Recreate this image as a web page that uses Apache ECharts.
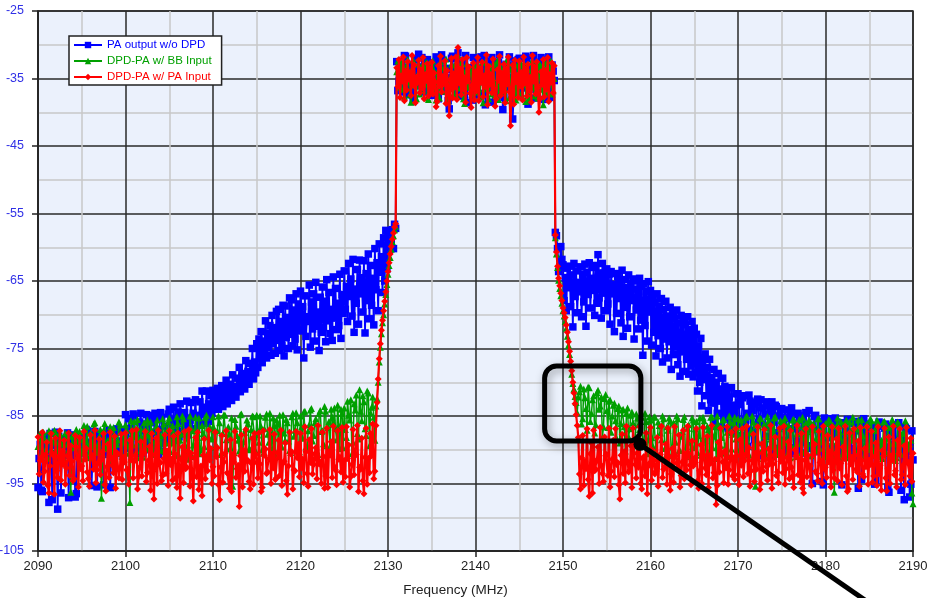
<!DOCTYPE html>
<html><head><meta charset="utf-8">
<script src="https://cdn.jsdelivr.net/npm/echarts@6/dist/echarts.min.js"></script>
<style>html,body{margin:0;padding:0;background:#fff}#c{width:931px;height:598px}</style>
</head><body><div id="c"></div>
<script>
// Two interleaved sweeps per trace: sweep A at 2090 + 0.25*i MHz, sweep B at 2090.125 + 0.25*i MHz
const freqStart = 2090, freqStep = 0.25, sweepOffset = 0.125;
const seriesNames = ['PA output w/o DPD', 'DPD-PA w/ BB Input', 'DPD-PA w/ PA Input'];

// PA output without DPD (dB)
const paNoDpdA = [
-95.6,-89.2,-96.2,-88.1,-90.5,-97.8,-89.3,-90.9,-87.4,-98.8,-89.1,-88.6,-90.8,-88.4,-97.1,-87.8,-90.2,-97.0,-88.7,-90.5,
-88.2,-90.1,-87.0,-89.3,-88.9,-90.4,-87.3,-95.5,-89.5,-88.0,-95.2,-90.7,-87.6,-95.6,-89.2,-90.9,-86.9,-89.8,-88.7,-90.8,
-84.8,-89.4,-86.9,-90.1,-85.0,-90.2,-88.3,-84.6,-90.5,-86.2,-89.6,-84.9,-90.6,-87.4,-85.3,-90.7,-84.5,-89.0,-86.5,-88.9,
-84.0,-85.6,-83.7,-86.0,-84.4,-83.2,-85.1,-84.5,-82.8,-85.3,-83.0,-84.6,-82.6,-84.9,-82.9,-81.3,-83.7,-81.3,-83.2,-82.0,
-81.2,-82.0,-80.9,-81.8,-80.5,-81.5,-79.7,-81.0,-80.3,-78.9,-80.6,-79.4,-77.8,-79.6,-78.7,-76.8,-78.4,-77.2,-75.0,-77.0,
-74.3,-73.6,-72.5,-73.9,-70.9,-72.7,-71.6,-70.1,-71.9,-69.5,-69.2,-71.0,-68.6,-68.7,-70.4,-67.5,-67.8,-69.3,-66.9,-68.4,
-66.5,-68.8,-67.2,-70.3,-65.6,-68.1,-66.9,-65.2,-69.6,-67.4,-65.9,-68.0,-64.8,-66.7,-69.2,-64.4,-66.1,-68.3,-64.0,-67.0,
-63.5,-65.8,-62.4,-64.7,-61.8,-66.2,-63.3,-61.9,-64.5,-62.0,-63.9,-61.0,-62.7,-64.6,-60.2,-62.3,-59.5,-61.4,-58.6,-57.5,
-57.9,-59.3,-57.4,-56.6,-32.5,-35.4,-33.6,-37.0,-31.7,-34.8,-36.3,-32.9,-38.1,-34.0,-31.4,-35.9,-33.3,-36.7,-32.2,-37.5,
-33.1,-36.0,-31.8,-38.0,-34.5,-32.3,-36.5,-33.7,-39.5,-32.0,-35.2,-37.3,-31.2,-34.2,-36.8,-32.6,-38.6,-33.4,-35.7,-31.9,
-35.8,-32.2,-37.4,-33.6,-31.6,-36.2,-34.8,-32.5,-38.5,-33.0,-36.9,-31.5,-34.4,-37.8,-32.9,-35.6,-33.2,-41.0,-32.4,-36.6,
-32.0,-36.4,-34.1,-31.7,-38.8,-33.4,-35.7,-32.6,-37.1,-33.8,-31.9,-36.0,-34.5,-32.3,-37.8,-33.0,-35.3,-58.3,-63.6,-59.9,
-62.6,-64.5,-63.1,-62.8,-64.1,-62.4,-63.5,-65.2,-62.9,-64.0,-62.5,-63.7,-62.3,-64.6,-63.0,-62.7,-61.1,-63.8,-62.4,-64.2,
-63.2,-64.0,-63.6,-65.5,-63.9,-64.3,-65.0,-63.4,-64.8,-66.0,-64.1,-65.4,-64.7,-66.2,-65.0,-64.6,-65.8,-65.4,-66.5,-65.1,
-66.4,-67.3,-68.2,-66.9,-68.7,-67.6,-69.2,-68.0,-70.2,-68.9,-69.8,-70.6,-69.3,-71.2,-70.1,-70.9,-71.5,-70.3,-72.2,-71.0,
-72.0,-72.9,-74.6,-73.5,-76.5,-75.8,-77.8,-76.6,-79.3,-78.1,-80.0,-78.7,-81.0,-79.4,-80.6,-81.4,-82.2,-80.8,-83.4,-81.7,
-81.7,-86.2,-82.3,-88.0,-84.6,-81.9,-87.1,-83.2,-90.4,-82.5,-85.5,-83.8,-89.2,-82.9,-86.7,-84.3,-91.0,-83.4,-87.5,-85.0,
-83.9,-88.6,-85.2,-89.2,-84.4,-86.9,-90.6,-84.8,-90.1,-85.6,-88.1,-84.5,-89.4,-86.4,-95.0,-85.1,-89.5,-90.3,-85.8,-95.2,
-86.0,-90.9,-85.4,-89.6,-87.7,-85.9,-90.4,-88.9,-86.3,-88.6,-85.5,-89.8,-90.0,-86.1,-90.3,-95.7,-87.2,-85.7,-89.9,-88.4,
-86.2,-89.4,-88.0,-94.5,-86.5,-90.7,-90.1,-86.8,-89.6,-96.3,-87.5,-89.2,-86.3,-90.6,-88.8,-88.9,-97.4,-86.9,-90.2,-95.1,
-91.5
];
const paNoDpdB = [
-91.3,-96.0,-89.9,-89.8,-90.0,-87.6,-97.4,-90.6,-89.3,-88.0,-96.4,-89.5,-90.8,-87.5,-90.2,-90.9,-88.8,-96.5,-90.6,-88.2,
-90.2,-89.1,-87.2,-90.9,-95.3,-88.5,-90.7,-87.8,-89.0,-90.0,-88.6,-90.1,-87.1,-90.4,-89.8,-87.4,-90.5,-90.0,-87.0,-89.6,
-89.8,-85.4,-89.2,-84.7,-88.0,-90.6,-85.9,-90.4,-87.2,-84.8,-90.0,-86.0,-89.4,-84.6,-89.9,-87.0,-85.2,-90.3,-88.4,-84.7,
-87.9,-86.4,-88.6,-86.9,-88.1,-85.8,-87.3,-86.5,-87.8,-85.6,-86.9,-85.2,-87.0,-85.9,-86.3,-84.8,-86.1,-85.0,-85.8,-84.6,
-83.8,-82.9,-84.0,-83.1,-83.6,-82.4,-83.2,-81.8,-82.7,-81.5,-82.2,-80.8,-81.4,-80.6,-81.0,-79.8,-80.3,-79.2,-79.5,-78.6,
-77.8,-76.2,-77.1,-75.6,-76.4,-74.9,-76.0,-74.3,-75.7,-73.8,-75.3,-74.6,-76.1,-73.4,-75.0,-72.9,-74.6,-73.6,-75.2,-72.2,
-72.4,-76.4,-73.2,-71.0,-74.8,-72.1,-73.9,-71.7,-75.3,-72.6,-71.9,-74.0,-70.9,-72.8,-73.8,-70.5,-72.2,-71.6,-73.5,-69.8,
-69.2,-71.0,-67.3,-70.2,-72.6,-68.3,-71.4,-66.9,-69.6,-72.7,-67.9,-70.6,-68.6,-71.5,-66.3,-69.4,-63.7,-66.7,-65.0,-63.2,
-60.5,-58.9,-60.2,-57.2,-36.8,-33.0,-35.9,-31.6,-37.4,-33.5,-35.0,-38.4,-32.2,-36.1,-33.8,-31.9,-37.0,-34.3,-36.4,-32.7,
-34.7,-37.5,-32.8,-35.6,-31.5,-36.9,-33.5,-38.3,-34.9,-31.7,-36.3,-33.9,-37.6,-32.4,-35.4,-31.6,-36.2,-34.0,-38.2,-33.2,
-33.9,-37.2,-31.8,-35.5,-38.9,-33.3,-36.5,-31.9,-34.7,-37.6,-32.6,-35.9,-39.6,-33.1,-36.4,-31.8,-34.9,-37.3,-33.6,-32.2,
-37.3,-33.2,-35.5,-32.0,-36.6,-34.3,-31.6,-37.9,-33.6,-35.8,-32.5,-38.1,-34.2,-31.8,-36.3,-33.9,-57.8,-60.2,-62.9,-61.8,
-67.9,-69.4,-66.0,-68.8,-71.8,-67.3,-69.7,-66.6,-70.3,-68.1,-71.7,-67.0,-69.0,-66.4,-70.1,-68.3,-67.5,-70.5,-66.8,-69.4,
-68.4,-71.4,-66.9,-72.5,-69.8,-67.6,-71.2,-73.2,-68.9,-72.0,-70.3,-67.9,-73.6,-69.3,-72.1,-70.8,-76.0,-71.6,-73.9,-69.6,
-74.5,-72.6,-76.1,-73.1,-75.0,-77.0,-73.6,-76.4,-74.0,-78.1,-75.9,-74.8,-77.4,-79.1,-75.5,-78.4,-76.6,-78.8,-77.6,-79.2,
-78.6,-81.3,-80.0,-83.5,-79.6,-82.0,-84.2,-82.6,-83.1,-85.9,-84.6,-82.8,-86.6,-85.3,-84.4,-86.9,-85.8,-87.4,-84.9,-86.2,
-83.3,-87.9,-82.0,-85.6,-89.5,-82.8,-84.2,-88.5,-83.0,-86.0,-82.6,-90.9,-84.7,-83.5,-88.0,-82.9,-85.9,-83.6,-89.8,-84.0,
-86.5,-84.1,-90.2,-85.4,-83.8,-89.7,-86.1,-84.6,-88.9,-85.0,-90.5,-86.9,-84.2,-89.8,-87.0,-84.9,-89.0,-86.2,-94.7,-85.3,
-88.2,-85.7,-89.9,-86.7,-85.3,-90.5,-87.9,-95.2,-86.0,-89.1,-85.6,-90.2,-87.4,-85.8,-91.2,-86.6,-94.4,-85.4,-89.6,-86.3,
-90.8,-86.4,-95.1,-87.8,-85.9,-89.8,-89.0,-86.2,-95.6,-88.1,-86.6,-90.3,-90.5,-86.0,-96.0,-88.6,-86.7,-89.5,-97.0,-87.2
];

// DPD-PA with BB input (dB)
const dpdBbInputA = [
-89.5,-87.6,-90.8,-88.3,-91.2,-87.2,-89.9,-88.7,-87.5,-90.6,-87.6,-89.1,-91.4,-88.2,-90.0,-96.3,-87.9,-89.7,-88.5,-87.3,
-90.2,-86.4,-88.9,-91.0,-87.5,-89.6,-86.0,-90.4,-88.0,-97.2,-87.1,-89.8,-88.6,-86.6,-91.3,-87.9,-89.2,-85.9,-90.5,-87.7,
-86.3,-89.4,-97.8,-87.6,-85.8,-90.2,-88.4,-86.9,-91.1,-87.8,-85.6,-89.9,-87.2,-90.7,-86.5,-88.8,-87.9,-85.4,-90.3,-87.0,
-85.3,-89.0,-87.4,-90.8,-86.1,-88.6,-85.0,-90.1,-87.3,-91.4,-86.8,-89.3,-85.2,-88.2,-90.6,-86.4,-89.5,-84.9,-88.0,-86.9,
-85.1,-89.6,-87.2,-86.0,-90.4,-84.8,-88.5,-86.6,-89.7,-95.4,-85.5,-87.9,-90.2,-84.7,-88.8,-86.9,-86.2,-90.0,-85.0,-88.1,
-84.9,-88.9,-86.6,-90.5,-85.2,-87.7,-84.6,-89.8,-86.4,-85.6,-91.0,-87.3,-84.8,-88.6,-86.0,-90.1,-85.1,-88.0,-84.5,-89.4,
-85.0,-88.3,-84.3,-90.0,-86.3,-83.9,-87.9,-85.4,-90.7,-84.2,-87.2,-83.6,-89.4,-85.8,-84.0,-88.5,-86.9,-83.4,-89.8,-84.6,
-83.8,-88.2,-84.9,-82.6,-88.9,-84.1,-87.6,-81.1,-85.7,-82.9,-87.9,-81.6,-84.5,-82.2,-88.6,-82.4,-77.0,-72.8,-70.0,-67.0,
-64.0,-61.5,-59.2,-57.4,-34.0,-35.7,-32.6,-36.6,-34.3,-32.2,-37.4,-33.5,-35.6,-38.0,-32.9,-34.8,-36.8,-33.1,-37.9,-32.7,
-36.1,-33.8,-38.2,-34.6,-32.5,-36.9,-33.3,-38.4,-35.2,-32.9,-37.2,-34.0,-31.6,-36.4,-33.6,-38.7,-32.8,-35.9,-34.3,-37.0,
-33.4,-35.9,-37.7,-32.6,-36.5,-34.1,-38.0,-33.2,-35.4,-37.5,-32.4,-34.7,-36.7,-33.9,-38.3,-32.8,-35.5,-36.9,-33.0,-34.9,
-37.1,-32.9,-35.2,-38.4,-33.7,-36.2,-32.5,-37.6,-34.8,-33.1,-36.6,-38.9,-32.7,-35.8,-33.5,-37.3,-35.0,-61.0,-64.9,-67.2,
-69.4,-71.0,-73.2,-75.9,-78.8,-81.0,-83.0,-82.2,-80.6,-85.4,-82.3,-87.1,-80.8,-84.6,-82.0,-86.3,-81.2,-83.5,-88.2,-82.4,
-84.2,-82.8,-87.4,-83.4,-85.7,-83.9,-89.0,-84.1,-86.6,-84.6,-88.1,-84.9,-86.0,-88.7,-85.3,-87.0,-85.2,-89.3,-85.8,-88.5,
-85.6,-89.4,-85.1,-90.6,-86.4,-88.5,-85.4,-90.9,-87.1,-85.7,-89.6,-86.2,-85.0,-90.1,-88.0,-85.5,-91.0,-86.8,-88.9,-85.3,
-89.7,-85.8,-87.9,-90.8,-85.2,-88.6,-86.5,-90.2,-85.1,-88.0,-91.3,-86.3,-89.4,-85.6,-90.5,-87.4,-85.0,-89.9,-86.0,-88.4,
-85.4,-89.8,-86.7,-88.6,-85.0,-90.7,-87.2,-85.9,-95.4,-88.9,-85.3,-90.0,-86.2,-91.1,-85.7,-88.4,-89.6,-85.1,-90.3,-86.9,
-90.6,-85.8,-88.7,-86.3,-91.2,-85.6,-89.5,-87.6,-85.5,-90.4,-88.1,-86.0,-90.9,-85.9,-89.0,-87.0,-90.2,-85.4,-88.8,-91.0,
-86.1,-90.1,-85.7,-88.8,-96.3,-86.5,-90.6,-85.8,-89.3,-87.3,-91.2,-85.9,-88.6,-86.8,-90.4,-85.6,-89.7,-87.9,-91.0,-86.2,
-89.4,-85.7,-90.8,-87.1,-86.0,-89.9,-91.3,-85.8,-88.3,-90.5,-86.4,-89.1,-91.6,-85.9,-88.7,-87.6,-90.7,-86.3,-89.8,-88.6,
-98.0
];
const dpdBbInputB = [
-89.5,-90.6,-87.4,-89.9,-91.3,-88.6,-90.2,-87.1,-88.9,-91.0,-88.2,-90.4,-87.5,-89.2,-91.1,-88.0,-89.6,-87.0,-90.5,-91.4,
-88.5,-90.4,-86.5,-91.2,-88.8,-86.2,-90.0,-89.1,-87.0,-90.6,-86.1,-89.4,-91.5,-88.4,-86.7,-90.3,-88.6,-86.3,-91.0,-88.9,
-87.1,-90.5,-85.7,-89.3,-88.1,-85.5,-91.2,-88.3,-86.0,-89.8,-87.5,-85.9,-90.6,-88.7,-85.6,-87.8,-90.1,-86.2,-89.0,-85.8,
-90.3,-86.4,-88.2,-85.1,-90.9,-87.7,-85.4,-89.4,-87.3,-85.0,-91.0,-87.2,-89.0,-85.3,-90.0,-87.6,-85.2,-90.5,-86.6,-88.4,
-86.8,-89.3,-85.0,-90.7,-87.6,-84.9,-89.9,-87.7,-85.3,-90.4,-86.5,-88.6,-84.8,-91.1,-87.4,-85.6,-89.8,-87.0,-85.1,-90.2,
-87.8,-85.0,-90.0,-86.9,-84.7,-88.9,-87.6,-85.3,-90.8,-86.2,-84.9,-89.6,-87.5,-85.5,-88.7,-90.4,-84.6,-87.1,-86.0,-90.3,
-86.6,-84.4,-89.6,-87.2,-84.1,-88.7,-86.0,-90.2,-84.6,-87.3,-89.1,-84.3,-86.7,-90.5,-85.2,-83.8,-88.5,-86.4,-84.0,-89.7,
-87.0,-82.8,-85.6,-90.6,-83.2,-81.9,-88.4,-84.3,-82.0,-86.9,-81.3,-89.4,-83.7,-85.2,-83.5,-80.0,-74.8,-71.2,-68.4,-65.5,
-62.7,-60.3,-58.3,-56.9,-32.4,-36.3,-34.0,-37.7,-33.0,-35.5,-38.5,-32.3,-36.0,-34.4,-37.3,-33.2,-35.8,-32.6,-38.1,-34.6,
-32.4,-36.8,-34.1,-37.9,-33.4,-35.6,-32.1,-38.3,-34.8,-36.5,-33.0,-37.6,-35.3,-32.7,-38.0,-34.2,-36.3,-33.5,-37.4,-32.9,
-37.0,-33.7,-35.1,-38.6,-32.5,-36.2,-34.4,-37.3,-32.9,-35.8,-38.1,-33.3,-36.9,-34.0,-32.2,-37.8,-33.6,-35.3,-38.2,-32.8,
-34.5,-37.7,-33.0,-35.9,-38.0,-32.6,-36.3,-34.1,-37.9,-32.9,-35.6,-33.8,-37.2,-34.7,-32.4,-36.8,-58.6,-63.0,-66.1,-68.3,
-70.2,-72.0,-74.5,-77.4,-80.2,-82.1,-84.5,-81.4,-86.2,-81.0,-83.9,-80.7,-85.8,-82.6,-87.5,-81.5,-84.0,-82.2,-86.6,-81.8,
-86.7,-82.6,-85.0,-83.1,-88.3,-83.5,-86.1,-84.0,-90.2,-83.8,-86.9,-84.4,-89.4,-84.7,-86.3,-85.0,-88.8,-84.6,-90.6,-85.1,
-88.2,-85.2,-90.3,-85.9,-87.5,-85.0,-89.8,-86.6,-85.3,-90.9,-86.0,-88.9,-85.4,-90.1,-87.3,-85.1,-89.5,-86.3,-91.0,-85.6,
-86.9,-90.4,-85.3,-88.9,-85.7,-91.2,-87.0,-85.2,-89.7,-86.6,-85.0,-90.5,-88.2,-85.5,-89.3,-91.0,-85.9,-87.7,-85.2,-90.0,
-88.1,-85.6,-90.1,-85.2,-90.8,-87.5,-85.0,-89.6,-86.4,-89.0,-85.4,-91.3,-87.9,-85.1,-90.4,-86.6,-85.3,-90.7,-88.0,-85.7,
-88.9,-85.3,-90.6,-86.7,-89.5,-85.5,-91.0,-86.4,-89.1,-85.2,-90.2,-87.3,-85.6,-90.9,-86.1,-88.4,-85.4,-89.8,-86.8,-87.9,
-90.7,-85.5,-89.7,-86.4,-90.4,-85.3,-88.1,-91.2,-86.3,-85.6,-89.9,-87.7,-85.2,-90.6,-86.9,-89.3,-85.5,-91.1,-86.4,-90.0,
-85.4,-90.3,-87.1,-85.6,-91.0,-88.6,-85.9,-90.4,-86.7,-90.8,-85.5,-88.7,-91.2,-86.2,-90.6,-87.5,-85.7,-89.9,-89.1,-96.4
];

// DPD-PA with PA input (dB)
const dpdPaInputA = [
-88.1,-91.6,-87.4,-93.2,-88.9,-96.4,-87.6,-90.8,-88.3,-94.1,-87.2,-90.2,-88.6,-92.7,-87.5,-89.4,-94.6,-87.9,-91.3,-88.2,
-92.4,-87.3,-89.8,-94.3,-87.8,-90.9,-87.1,-93.0,-88.4,-91.5,-87.6,-96.1,-89.2,-87.4,-92.3,-88.0,-90.4,-94.2,-87.7,-91.1,
-87.5,-92.9,-88.6,-87.2,-91.7,-87.0,-94.0,-88.8,-90.6,-87.3,-93.4,-89.5,-87.6,-97.3,-88.3,-87.1,-91.9,-93.8,-87.8,-90.2,
-87.2,-91.4,-88.0,-94.1,-87.5,-97.2,-89.6,-87.3,-92.6,-87.0,-90.5,-97.6,-88.2,-87.4,-93.2,-96.8,-88.4,-91.0,-87.1,-89.8,
-92.5,-87.4,-89.7,-97.4,-87.9,-91.8,-87.2,-93.6,-88.5,-90.7,-87.3,-92.8,-98.4,-87.8,-90.1,-87.0,-91.6,-95.8,-88.3,-87.6,
-91.9,-87.5,-96.2,-87.2,-89.9,-93.3,-87.0,-90.6,-87.7,-94.2,-88.6,-87.1,-92.0,-89.0,-96.6,-87.4,-90.3,-93.0,-87.3,-89.2,
-87.6,-91.4,-86.6,-93.5,-88.5,-86.9,-92.2,-89.7,-86.4,-91.8,-87.4,-95.7,-86.8,-90.3,-88.8,-86.5,-93.0,-87.2,-91.1,-86.7,
-91.6,-86.6,-89.3,-94.0,-87.0,-90.8,-86.4,-92.6,-88.3,-96.5,-86.8,-91.3,-87.6,-86.2,-93.2,-83.0,-76.5,-72.3,-69.4,-66.6,
-63.6,-61.0,-58.8,-57.0,-33.4,-32.2,-34.6,-31.8,-33.9,-32.5,-34.1,-31.6,-33.0,-34.8,-32.3,-33.7,-31.9,-34.4,-32.8,-33.5,
-32.6,-34.2,-39.2,-33.1,-31.7,-34.7,-32.4,-33.8,-40.5,-32.0,-34.3,-31.8,-30.4,-33.6,-32.2,-34.9,-31.9,-33.3,-39.3,-32.7,
-34.0,-31.9,-33.5,-32.6,-34.6,-31.5,-33.2,-34.4,-32.1,-39.1,-33.7,-31.7,-34.2,-32.9,-33.6,-31.8,-42.0,-33.0,-32.3,-34.5,
-32.4,-34.1,-31.8,-33.6,-32.9,-34.8,-31.6,-33.3,-32.5,-40.0,-34.0,-32.2,-33.8,-31.9,-34.4,-32.7,-33.1,-60.7,-64.6,-66.8,
-69.0,-70.4,-72.6,-75.4,-78.3,-81.6,-84.8,-88.2,-95.8,-87.9,-91.7,-86.9,-96.9,-89.0,-87.1,-92.9,-89.6,-86.7,-93.5,-88.1,
-90.7,-86.8,-93.2,-88.6,-86.9,-91.9,-97.3,-87.7,-90.3,-86.5,-93.3,-89.4,-86.8,-92.2,-88.3,-86.6,-95.8,-91.0,-87.5,-92.4,
-86.7,-90.1,-93.6,-88.2,-91.5,-86.5,-92.9,-89.2,-86.8,-96.0,-89.8,-86.6,-92.0,-87.8,-93.8,-87.1,-90.6,-86.5,-92.3,-88.7,
-91.3,-86.9,-95.7,-89.3,-86.7,-92.7,-88.0,-90.9,-86.4,-93.4,-98.1,-88.9,-86.8,-91.8,-90.2,-86.6,-93.0,-87.4,-91.2,-86.9,
-93.7,-88.5,-86.9,-91.6,-86.5,-89.7,-93.1,-87.7,-90.5,-86.6,-95.9,-89.1,-87.0,-92.5,-89.9,-86.4,-92.1,-88.1,-93.3,-86.8,
-90.4,-86.5,-92.8,-88.8,-87.2,-93.9,-90.0,-86.4,-91.4,-87.6,-96.4,-86.9,-90.8,-92.4,-86.6,-89.2,-93.5,-87.3,-91.7,-86.5,
-92.6,-87.9,-90.3,-86.6,-94.2,-88.4,-86.8,-92.0,-89.6,-86.5,-96.2,-87.5,-91.1,-86.9,-92.9,-88.7,-86.7,-93.6,-89.8,-86.6,
-91.5,-87.3,-93.9,-89.0,-86.6,-92.3,-90.1,-86.8,-96.1,-88.1,-90.9,-86.5,-93.1,-88.6,-86.9,-93.7,-89.4,-86.7,-91.9,-88.3,
-90.5
];
const dpdPaInputB = [
-93.6,-91.2,-94.8,-90.7,-95.3,-92.4,-90.5,-96.6,-93.1,-91.0,-94.5,-92.2,-95.1,-90.9,-93.8,-91.7,-94.3,-89.6,-95.5,-92.8,
-94.6,-91.4,-93.3,-95.4,-90.8,-92.9,-94.9,-91.9,-93.7,-90.3,-95.2,-92.5,-94.1,-91.1,-93.4,-95.7,-90.6,-92.7,-94.4,-91.8,
-93.0,-95.1,-91.5,-94.2,-90.9,-95.8,-92.6,-93.9,-90.4,-94.7,-91.6,-96.0,-93.2,-90.7,-95.0,-92.0,-94.6,-91.3,-93.5,-95.3,
-92.2,-94.5,-90.6,-95.6,-93.0,-91.4,-94.9,-92.8,-90.2,-95.4,-93.6,-91.2,-94.0,-95.9,-92.4,-90.8,-94.3,-93.1,-91.5,-95.0,
-93.9,-91.0,-95.2,-92.6,-94.8,-90.5,-93.4,-95.7,-96.2,-91.8,-94.1,-92.3,-90.9,-95.5,-93.2,-91.6,-94.7,-92.0,-95.1,-90.7,
-94.2,-92.1,-95.6,-90.8,-93.5,-91.3,-95.0,-92.7,-94.4,-90.4,-93.8,-95.3,-91.7,-94.6,-92.4,-90.6,-95.8,-93.1,-91.2,-94.0,
-92.7,-94.9,-90.3,-95.4,-91.9,-93.6,-90.6,-94.3,-92.1,-95.0,-91.0,-93.9,-95.6,-90.8,-94.1,-92.5,-95.2,-91.4,-93.3,-94.8,
-94.0,-91.3,-95.5,-92.2,-93.7,-90.7,-96.2,-92.9,-94.6,-91.1,-95.1,-93.4,-90.9,-94.3,-86.4,-79.5,-74.3,-70.8,-68.0,-65.0,
-62.3,-59.9,-57.9,-56.5,-36.2,-37.8,-35.4,-38.3,-36.7,-35.1,-37.5,-36.0,-38.6,-35.6,-37.1,-36.4,-38.0,-35.3,-37.6,-36.9,
-37.3,-35.5,-38.4,-36.1,-37.0,-35.8,-38.7,-36.5,-35.2,-37.9,-36.3,-38.1,-35.7,-37.4,-36.6,-38.5,-35.4,-37.2,-36.0,-38.2,
-36.8,-38.3,-35.6,-37.7,-36.2,-38.9,-35.9,-37.1,-36.5,-38.0,-35.3,-37.5,-36.9,-38.6,-35.8,-37.0,-36.4,-38.8,-35.5,-37.8,
-36.1,-38.2,-35.7,-37.6,-36.8,-38.5,-35.4,-37.3,-36.3,-38.0,-35.9,-37.7,-36.6,-38.4,-35.6,-37.1,-58.2,-62.8,-65.7,-67.9,
-69.7,-71.5,-74.0,-76.9,-80.0,-83.2,-86.4,-93.6,-91.2,-95.3,-92.8,-94.4,-90.6,-96.4,-93.1,-91.5,-95.0,-92.3,-94.7,-90.9,
-93.8,-95.5,-91.4,-94.0,-92.2,-95.2,-90.8,-93.5,-94.9,-91.7,-93.0,-95.6,-90.5,-94.2,-92.6,-95.0,-91.3,-93.9,-96.5,-92.0,
-94.5,-91.6,-93.2,-95.4,-90.7,-94.1,-92.5,-95.1,-91.0,-93.6,-94.8,-90.9,-92.9,-95.5,-91.8,-94.3,-93.0,-90.6,-95.2,-92.4,
-91.9,-94.6,-93.1,-95.0,-90.8,-93.7,-95.6,-92.0,-94.2,-91.4,-95.3,-93.3,-90.5,-94.9,-92.7,-95.1,-91.1,-93.9,-94.4,-90.9,
-95.2,-92.3,-94.0,-90.7,-93.5,-95.4,-91.6,-94.7,-92.9,-90.5,-95.0,-93.2,-91.4,-94.5,-92.1,-95.7,-90.8,-93.8,-94.9,-91.7,
-93.4,-95.1,-91.2,-94.3,-92.6,-95.6,-90.9,-93.7,-94.8,-95.7,-91.5,-94.0,-92.4,-95.3,-90.7,-93.2,-94.6,-91.9,-95.0,-92.8,
-94.1,-91.8,-95.5,-93.0,-90.6,-94.6,-92.7,-95.2,-91.3,-93.9,-95.8,-92.1,-94.4,-90.8,-93.3,-95.4,-91.6,-94.0,-92.5,-95.1,
-92.2,-94.8,-91.0,-95.3,-93.6,-96.0,-90.9,-94.2,-92.8,-95.0,-91.5,-93.7,-95.5,-90.6,-94.4,-92.3,-95.2,-91.8,-93.9,-94.7
];

// Callout annotation in data coordinates: box corners and pointer line
const calloutBox = [[2147.9, -77.6], [2158.9, -88.7]];
const calloutPointer = [[2158.8, -89.2], [2186.1, -113.7]];

function merge(a, b) {
  const out = [];
  for (let i = 0; i < a.length; i++) {
    out.push([freqStart + i * freqStep, a[i]]);
    if (i < b.length) out.push([freqStart + sweepOffset + i * freqStep, b[i]]);
  }
  return out;
}

const colors = ['#0000ff', '#00a000', '#ff0000'];
const symbols = ['rect', 'triangle', 'diamond'];
const symbolSizes = [7.5, 7, 7];
const lineWidths = [1.8, 1.5, 2.2];
const allData = [merge(paNoDpdA, paNoDpdB), merge(dpdBbInputA, dpdBbInputB), merge(dpdPaInputA, dpdPaInputB)];

const chart = echarts.init(document.getElementById('c'), null, { renderer: 'canvas' });
const font = 'Liberation Sans, Arial, sans-serif';
const option = {
  animation: false,
  backgroundColor: '#ffffff',
  grid: {
    left: 38, right: 18, top: 11, bottom: 47,
    show: true, backgroundColor: '#ebf1fc', borderColor: '#2a2a2a', borderWidth: 1.5,
    containLabel: false, outerBoundsMode: 'none'
  },
  legend: {
    orient: 'vertical', left: 69, top: 36,
    backgroundColor: '#ffffff', borderColor: '#222', borderWidth: 1.5, borderRadius: 0,
    padding: [3, 10, 2, 4], itemGap: 4, itemWidth: 28, itemHeight: 8,
    textStyle: { fontFamily: font, fontSize: 11.5 },
    data: seriesNames.map((n, i) => ({ name: n, textStyle: { color: colors[i] } }))
  },
  xAxis: {
    type: 'value', min: 2090, max: 2190, interval: 10,
    name: 'Frequency (MHz)', nameLocation: 'middle', nameGap: 32,
    nameTextStyle: { color: '#222', fontSize: 13.5, fontFamily: font, padding: [0, 40, 0, 0] },
    axisLine: { show: true, lineStyle: { color: '#222', width: 1.5 } },
    axisTick: { show: true, inside: false, length: 6, lineStyle: { color: '#222', width: 1.5 } },
    axisLabel: { color: '#222', fontSize: 13, margin: 9, fontFamily: font, formatter: v => String(v) },
    splitLine: { show: true, lineStyle: { color: '#2a2a2a', width: 1.5 } },
    minorTick: { show: false, splitNumber: 2 },
    minorSplitLine: { show: true, lineStyle: { color: '#c8c8c8', width: 1.5 } }
  },
  yAxis: {
    type: 'value', min: -105, max: -25, interval: 10,
    axisLine: { show: true, lineStyle: { color: '#222', width: 1.5 } },
    axisTick: { show: true, inside: false, length: 6, lineStyle: { color: '#222', width: 1.5 } },
    axisLabel: { color: '#3030e6', fontSize: 12.5, margin: 14, fontFamily: font, formatter: v => String(v) },
    splitLine: { show: true, lineStyle: { color: '#2a2a2a', width: 1.5 } },
    minorTick: { show: false, splitNumber: 2 },
    minorSplitLine: { show: true, lineStyle: { color: '#c8c8c8', width: 1.5 } }
  },
  series: allData.map((pts, i) => ({
    name: seriesNames[i], type: 'line',
    data: pts,
    symbol: symbols[i], symbolSize: symbolSizes[i], showSymbol: true, showAllSymbol: true,
    itemStyle: { color: colors[i] },
    lineStyle: { color: colors[i], width: lineWidths[i] },
    emphasis: { disabled: true }, silent: true,
    z: 2 + i
  }))
};
chart.setOption(option);

const a = chart.convertToPixel({ gridIndex: 0 }, calloutBox[0]);
const b = chart.convertToPixel({ gridIndex: 0 }, calloutBox[1]);
const p0 = chart.convertToPixel({ gridIndex: 0 }, calloutPointer[0]);
const p1 = chart.convertToPixel({ gridIndex: 0 }, calloutPointer[1]);
chart.setOption({
  graphic: [
    { type: 'rect', z: 100, silent: true,
      shape: { x: a[0], y: a[1], width: b[0] - a[0], height: b[1] - a[1], r: 12 },
      style: { fill: 'none', stroke: '#000', lineWidth: 5, shadowBlur: 8, shadowColor: 'rgba(0,0,0,0.35)', shadowOffsetX: 2, shadowOffsetY: 3 } },
    { type: 'line', z: 100, silent: true,
      shape: { x1: p0[0], y1: p0[1], x2: p1[0], y2: p1[1] },
      style: { stroke: '#000', lineWidth: 5 } },
    { type: 'circle', z: 101, silent: true,
      shape: { cx: p0[0], cy: p0[1], r: 6.5 },
      style: { fill: '#000' } }
  ]
});
[paNoDpdB, dpdBbInputB, dpdPaInputB].forEach((arr, i) => { if (arr.length !== 400) throw new Error('sweep B length ' + i + ': ' + arr.length); });
[paNoDpdA, dpdBbInputA, dpdPaInputA].forEach((arr, i) => { if (arr.length !== 401) throw new Error('sweep A length ' + i + ': ' + arr.length); });
</script></body></html>
